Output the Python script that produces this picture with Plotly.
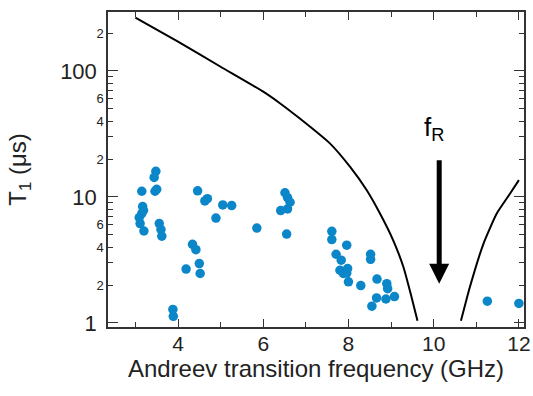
import plotly.graph_objects as go
import math

# ---- data ----
freq_meas = [3.15, 3.48, 3.44, 3.50, 3.46, 3.17, 3.19, 3.15, 3.09, 3.11, 3.20,
             3.56, 3.60, 3.62, 3.88, 3.89, 4.19, 4.34, 4.42, 4.50, 4.52,
             4.46, 4.63, 4.69, 4.89, 5.05, 5.26, 5.85,
             6.51, 6.57, 6.63, 6.57, 6.41, 6.55,
             7.61, 7.61, 7.96, 7.71, 7.83, 7.80, 7.88, 7.98, 7.96, 8.00, 8.29,
             8.52, 8.52, 8.67, 8.90, 8.92, 9.08, 8.88, 8.66, 8.55,
             11.26, 12.00]
t1_meas = [11.1, 16.0, 14.3, 11.5, 11.1, 8.4, 7.84, 7.38, 6.86, 6.15, 5.37,
           6.15, 5.51, 4.88, 1.28, 1.13, 2.68, 4.21, 3.82, 2.96, 2.47,
           11.2, 9.3, 9.7, 6.8, 8.64, 8.55, 5.67,
           10.8, 9.9, 9.08, 8.03, 7.8, 5.08,
           5.34, 4.59, 4.14, 3.51, 3.15, 2.62, 2.47, 2.70, 2.49, 2.12, 1.98,
           3.51, 3.20, 2.23, 2.05, 1.87, 1.62, 1.55, 1.58, 1.36,
           1.49, 1.43]

freq_limit_low = [3.0, 4.0, 5.0, 6.0, 6.39, 6.86, 7.57, 8.04, 8.43, 8.74, 9.05, 9.29, 9.48, 9.62]
t1_limit_low = [265, 171, 108, 68.5, 55.5, 41.9, 26.5, 17.3, 11.3, 7.39, 4.53, 2.78, 1.61, 1.04]
freq_limit_high = [10.64, 10.85, 11.17, 11.48, 11.79, 12.0]
t1_limit_high = [1.04, 1.93, 4.27, 7.39, 10.6, 13.6]

f_resonator = 10.13
arrow_tip_t1 = 2.05
label_f = 10.0
label_t1 = 35

x_tick_vals = [4, 6, 8, 10, 12]
x_minor_vals = [3, 5, 7, 9, 11]
y_major_vals = [1, 10, 100]
y_major_text = ["1", "10", "100"]
y_minor_label_vals = [2, 4, 6, 20, 40, 60, 200]
y_minor_label_text = ["2", "4", "6", "2", "4", "6", "2"]
y_minor_plain_vals = [3, 5, 7, 8, 9, 30, 50, 70, 80, 90]

X_RANGE = [2.357, 12.12]
Y_RANGE = [-0.032, 2.468]

FONT = "Arial, Liberation Sans, sans-serif"
BLUE = "#0a86c9"
AX = "#333333"
TXT = "#222222"

fig = go.Figure()
fig.add_trace(go.Scatter(x=freq_limit_low, y=t1_limit_low, mode="lines",
                         line=dict(color="black", width=2, shape="spline", smoothing=0.5),
                         showlegend=False, hoverinfo="skip"))
fig.add_trace(go.Scatter(x=freq_limit_high, y=t1_limit_high, mode="lines",
                         line=dict(color="black", width=2, shape="spline", smoothing=0.5),
                         showlegend=False, hoverinfo="skip"))
fig.add_trace(go.Scatter(x=freq_meas, y=t1_meas, mode="markers",
                         marker=dict(color=BLUE, size=9.5), showlegend=False))
# invisible helper traces so the overlay (minor tick / small label) axes are drawn
for ya in ["y2", "y3"]:
    fig.add_trace(go.Scatter(x=freq_meas[:1], y=t1_meas[:1], xaxis="x2", yaxis=ya,
                             mode="markers", marker=dict(opacity=0), showlegend=False,
                             hoverinfo="skip"))

fig.add_annotation(x=f_resonator, y=math.log10(arrow_tip_t1), xref="x", yref="y",
                   ax=0, ay=-125, text="", showarrow=True, arrowhead=2,
                   arrowsize=0.8, arrowwidth=5, arrowcolor="black", standoff=0)
fig.add_annotation(x=label_f, y=math.log10(label_t1), xref="x", yref="y",
                   text="f<sub>R</sub>", showarrow=False,
                   font=dict(family=FONT, size=26, color="black"))

common = dict(showgrid=False, zeroline=False, automargin=False)
line_style = dict(showline=True, linecolor=AX, linewidth=1.5, mirror="ticks")

fig.update_layout(
    width=533, height=396,
    margin=dict(l=108, r=9, t=12, b=69),
    paper_bgcolor="white", plot_bgcolor="white",
    font=dict(family=FONT, color=TXT),
    xaxis=dict(range=X_RANGE, tickvals=x_tick_vals,
               ticks="inside", ticklen=8, tickwidth=1.2, tickcolor=AX,
               tickfont=dict(size=21, family=FONT, color=TXT),
               ticklabelstandoff=-3, ticklabeloverflow="allow",
               title=dict(text="Andreev transition frequency (GHz)",
                          font=dict(size=24, family=FONT, color=TXT),
                          standoff=2),
               **line_style, **common),
    xaxis2=dict(range=X_RANGE, overlaying="x", anchor="y", side="bottom",
                tickvals=x_minor_vals, ticks="inside", ticklen=5, tickwidth=1.2,
                tickcolor=AX, showticklabels=False,
                **line_style, **common),
    yaxis=dict(type="log", range=Y_RANGE,
               tickvals=y_major_vals, ticktext=y_major_text,
               ticks="inside", ticklen=10, tickwidth=1.2, tickcolor=AX,
               tickfont=dict(size=22, family=FONT, color=TXT),
               ticklabelstandoff=5,
               title=dict(text="T<sub>1</sub> (μs)",
                          font=dict(size=24, family=FONT, color=TXT),
                          standoff=27),
               **line_style, **common),
    yaxis2=dict(type="log", range=Y_RANGE, overlaying="y", anchor="x",
                side="left", tickvals=y_minor_label_vals, ticktext=y_minor_label_text,
                ticks="inside", ticklen=5, tickwidth=1.2, tickcolor=AX,
                tickfont=dict(size=13, family=FONT, color=TXT),
                ticklabelstandoff=0,
                **line_style, **common),
    yaxis3=dict(type="log", range=Y_RANGE, overlaying="y", anchor="x",
                side="left", tickvals=y_minor_plain_vals,
                ticks="inside", ticklen=5, tickwidth=1.2, tickcolor=AX,
                showticklabels=False,
                **line_style, **common),
)

# remove the browser's default 8px body margin so the 533x396 figure fills the window
fig.write_html("out.html",
               config={"displayModeBar": False},
               post_script="document.body.style.margin='0';"
                           "document.body.style.overflow='hidden';")
